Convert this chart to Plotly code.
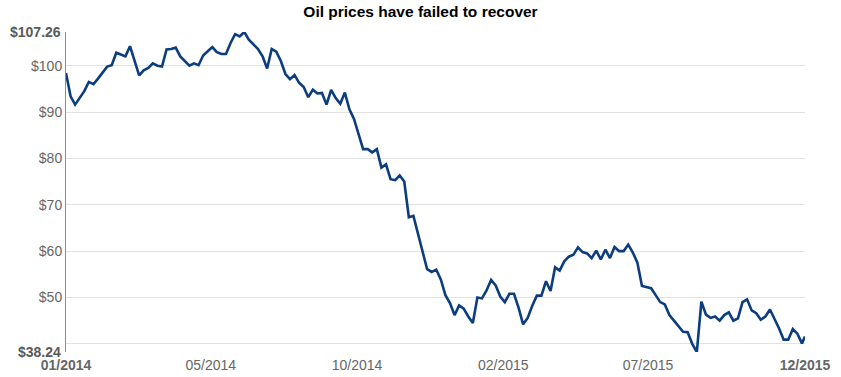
import plotly.graph_objects as go

title_text = "Oil prices have failed to recover"

# trading-day index (every 3rd trading day from 31 Dec 2013, plus the final day)
trading_day = list(range(0, 484, 3)) + [485]

# WTI price in USD
price = [
    98.4, 93.4, 91.6, 93.0, 94.5, 96.5, 96.0, 97.2, 98.5, 99.8,
    100.1, 102.8, 102.4, 102.0, 104.2, 101.0, 97.9, 99.0, 99.5, 100.5,
    100.0, 99.8, 103.5, 103.6, 103.9, 102.0, 100.9, 100.0, 100.5, 100.1,
    102.2, 103.2, 104.0, 102.9, 102.5, 102.5, 104.9, 106.8, 106.3, 107.26,
    105.6, 104.6, 103.6, 102.0, 99.4, 103.6, 103.0, 101.0, 98.2, 97.1,
    98.0, 96.3, 95.4, 93.2, 94.8, 94.0, 94.1, 91.6, 94.8, 93.0,
    91.8, 94.2, 90.6, 88.5, 85.4, 82.0, 82.0, 81.3, 82.0, 78.0,
    78.7, 75.5, 75.3, 76.3, 75.0, 67.3, 67.6, 63.7, 59.5, 56.1,
    55.5, 56.0, 53.9, 50.5, 48.8, 46.2, 48.3, 47.6, 45.9, 44.5,
    50.0, 49.8, 51.5, 53.8, 52.6, 50.2, 49.0, 50.8, 50.8, 47.8,
    44.2, 45.6, 48.2, 50.4, 50.4, 53.5, 51.4, 56.5, 55.8, 57.8,
    58.8, 59.2, 60.8, 59.8, 59.5, 58.5, 60.1, 58.2, 60.3, 58.5,
    60.9, 60.0, 60.0, 61.4, 59.7, 57.5, 52.5, 52.2, 52.0, 50.5,
    49.0, 48.5, 46.2, 45.0, 43.8, 42.6, 42.5, 40.0, 38.24, 49.1,
    46.3, 45.6, 45.9, 45.0, 46.2, 46.8, 45.0, 45.5, 49.0, 49.6,
    47.2, 46.6, 45.2, 45.9, 47.4, 45.4, 43.3, 40.9, 40.9, 43.2,
    42.2, 40.1, 41.6,
]

x_tick_pos = [0, 95, 191, 287, 382, 485]
x_tick_labels = ["<b>01/2014</b>", "05/2014", "10/2014", "02/2015", "07/2015", "<b>12/2015</b>"]

y_min, y_max = 38.24, 107.26
y_tick_vals = [40, 50, 60, 70, 80, 90, 100]
y_tick_text = ["", "$50", "$60", "$70", "$80", "$90", "$100"]

fig = go.Figure()
fig.add_trace(go.Scatter(
    x=trading_day, y=price, mode="lines",
    line=dict(color="#0c3d7e", width=2.6),
    hoverinfo="y",
))

fig.update_layout(
    width=841, height=377,
    template="none",
    paper_bgcolor="white", plot_bgcolor="white",
    margin=dict(l=66, r=36, t=32, b=25, pad=0),
    showlegend=False,
    font=dict(family="Liberation Sans, Arial, sans-serif", size=14, color="#666666"),
    title=dict(text="<b>" + title_text + "</b>", x=0.5, xanchor="center",
               y=1 - 12 / 377, yanchor="middle", yref="container",
               font=dict(size=15.5, color="#000000")),
)

fig.update_xaxes(
    range=[0, 485], tickmode="array", tickvals=x_tick_pos, ticktext=x_tick_labels,
    showgrid=False, zeroline=False, showline=False, ticks="", automargin=False,
    ticklabelstandoff=3,
    tickfont=dict(size=14, color="#666666"),
)
fig.update_yaxes(
    range=[y_min, y_max], tickmode="array", tickvals=y_tick_vals, ticktext=y_tick_text,
    showgrid=True, gridcolor="#e3e3e3", gridwidth=1, zeroline=False,
    showline=True, linecolor="#8c8c8c", linewidth=1, ticks="", automargin=False,
    tickfont=dict(size=14, color="#666666"),
)

for v in (y_max, y_min):
    fig.add_annotation(
        x=0, xref="paper", y=v, yref="y", xanchor="right", yanchor="middle",
        text="<b>$" + f"{v:.2f}" + "</b>", showarrow=False, xshift=-3,
        font=dict(size=14, color="#595959"),
    )

fig.write_html("out.html", config={"displayModeBar": False},
               post_script="document.body.style.margin='0';")
